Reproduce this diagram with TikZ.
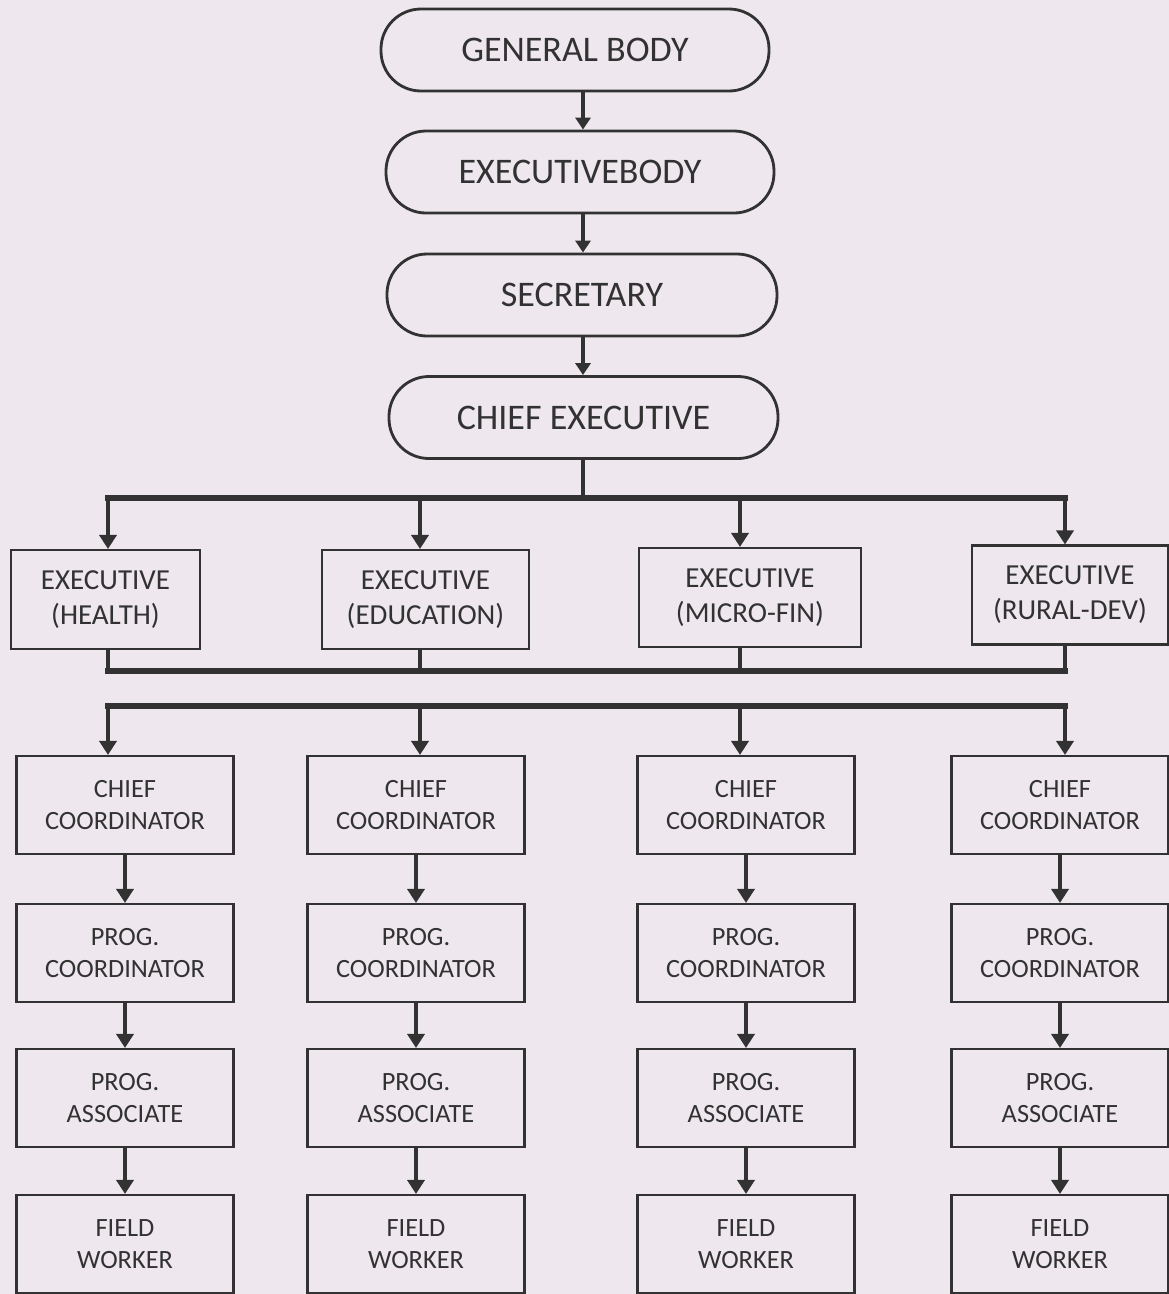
\documentclass[tikz,border=0pt]{standalone}
\usepackage{fontspec}
\setmainfont{Carlito}
\usetikzlibrary{arrows.meta}
\definecolor{paper}{RGB}{238,232,238}
\definecolor{ink}{RGB}{50,50,50}

\begin{document}
\begin{tikzpicture}[
  every node/.style={text=ink, align=center, inner sep=0pt},
  ovalbox/.style={draw=ink, line width=1.6pt, rectangle, rounded corners=0.8cm,
    minimum width=7.76cm, minimum height=1.64cm, font=\fontsize{20.5}{24}\selectfont},
  execbox/.style={draw=ink, line width=1.2pt, minimum height=1.98cm,
    font=\fontsize{16.5}{20}\selectfont},
  postbox/.style={draw=ink, line width=1.2pt, minimum width=4.34cm, minimum height=1.96cm,
    font=\fontsize{15}{18.2}\selectfont},
  toparr/.style={draw=ink, line width=2.1pt, -{Triangle[length=0.24cm,width=0.3cm]}},
  arr/.style={draw=ink, line width=2.2pt, -{Triangle[length=0.28cm,width=0.34cm]}},
  stem/.style={draw=ink, line width=2.2pt},
  barline/.style={draw=ink, line width=3.4pt, line cap=rect}]
\fill[paper] (0,0) rectangle (23.38,-25.88);
\useasboundingbox (0,0) rectangle (23.38,-25.88);

% top of the chart
\node[ovalbox] (gb) at (11.50,-1.00) {GENERAL BODY};
\node[ovalbox] (eb) at (11.60,-3.44) {EXECUTIVEBODY};
\node[ovalbox, minimum width=7.8cm] (sec) at (11.64,-5.90) {SECRETARY};
\node[ovalbox, minimum width=7.78cm] (ce) at (11.67,-8.35) {CHIEF EXECUTIVE};
\coordinate (spine) at (11.66,0);
\draw[toparr] (gb.south -| spine) -- (eb.north -| spine);
\draw[toparr] (eb.south -| spine) -- (sec.north -| spine);
\draw[toparr] (sec.south -| spine) -- (ce.north -| spine);

% executives
\node[execbox, minimum width=3.78cm] (exec1) at (2.11,-11.99) {EXECUTIVE\\(HEALTH)};
\node[execbox, minimum width=4.14cm] (exec2) at (8.51,-11.99) {EXECUTIVE\\(EDUCATION)};
\node[execbox, minimum width=4.44cm] (exec3) at (15.00,-11.95) {EXECUTIVE\\(MICRO-FIN)};
\node[execbox, minimum width=3.92cm] (exec4) at (21.40,-11.90) {EXECUTIVE\\(RURAL-DEV)};

% bars
\coordinate (bartop) at (0,-9.96);
\coordinate (barmid) at (0,-13.42);
\coordinate (barlow) at (0,-14.12);
\coordinate (d1) at (2.16,0);
\coordinate (d2) at (8.40,0);
\coordinate (d3) at (14.80,0);
\coordinate (d4) at (21.30,0);
\draw[stem] (ce.south -| spine) -- (spine |- bartop);
\draw[barline] (d1 |- bartop) -- (d4 |- bartop);
\draw[barline] (d1 |- barmid) -- (d4 |- barmid);
\draw[barline] (d1 |- barlow) -- (d4 |- barlow);

% columns
\foreach \i/\x in {1/2.50,2/8.32,3/14.92,4/21.20}{
  \node[postbox] (cc\i) at (\x,-16.10) {CHIEF\\COORDINATOR};
  \node[postbox] (pc\i) at (\x,-19.06) {PROG.\\COORDINATOR};
  \node[postbox] (pa\i) at (\x,-21.96) {PROG.\\ASSOCIATE};
  \node[postbox] (fw\i) at (\x,-24.88) {FIELD\\WORKER};
  \draw[arr] (d\i |- bartop) -- (d\i |- exec\i.north);
  \draw[stem] (d\i |- exec\i.south) -- (d\i |- barmid);
  \draw[arr] (d\i |- barlow) -- (d\i |- cc\i.north);
  \draw[arr] (cc\i.south) -- (pc\i.north);
  \draw[arr] (pc\i.south) -- (pa\i.north);
  \draw[arr] (pa\i.south) -- (fw\i.north);
}
\end{tikzpicture}
\end{document}
